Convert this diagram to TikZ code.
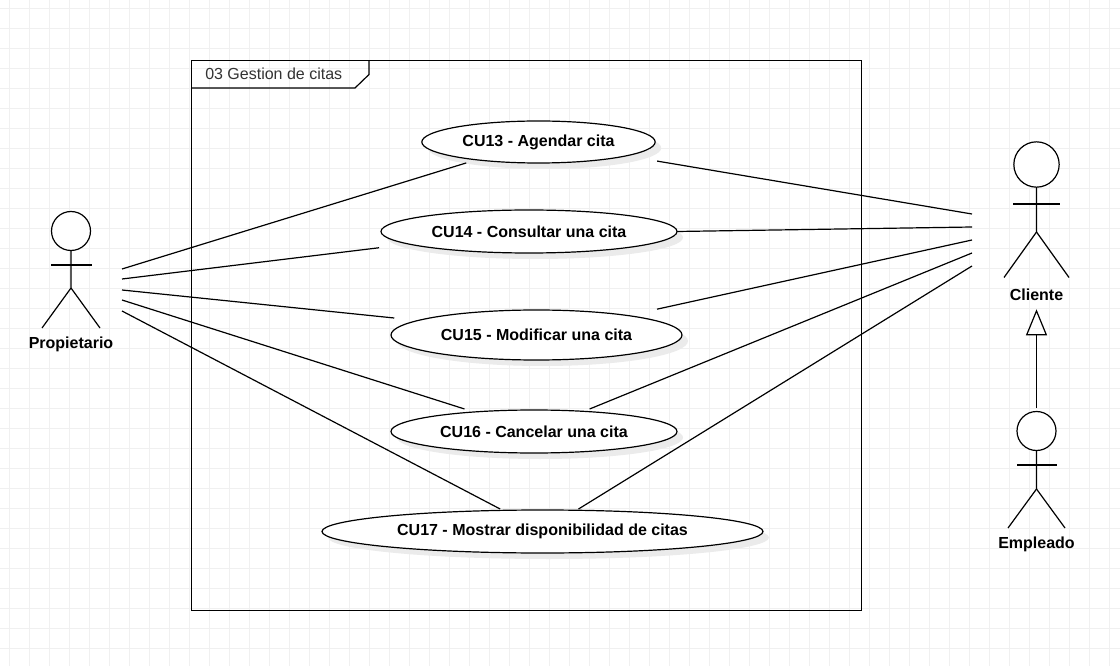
\documentclass[tikz,border=0pt]{standalone}
\usepackage{fontspec}
\setmainfont{Liberation Sans}
\usetikzlibrary{positioning, shapes, arrows.meta, shadows}
\tikzset{
	gridline/.style={draw=black!6, line width=0.75pt},
	usecase/.style={ellipse, draw=black, fill=white, line width=0.9pt, inner sep=0pt, outer sep=0pt, font=\fontsize{12}{14}\selectfont\bfseries, drop shadow={shadow xshift=4.5pt, shadow yshift=-4.5pt, fill=black!8, opacity=1}},
	actorhead/.style={circle, draw=black, fill=white, line width=0.9pt, inner sep=0pt, outer sep=0pt},
	actorname/.style={inner sep=0pt, font=\fontsize{12}{14}\selectfont\bfseries},
	assoc/.style={draw=black, line width=0.9pt},
}
\begin{document}
\begin{tikzpicture}[x=0.75pt, y=-0.75pt]
			\useasboundingbox (0,0) rectangle (1120,666);
			\fill[white] (0,0) rectangle (1120,666);
			\foreach \gx in {9.5,29.5,...,1110} {\draw[gridline] (\gx,0) -- (\gx,666);}
			\foreach \gy in {8.5,28.5,...,660} {\draw[gridline] (0,\gy) -- (1120,\gy);}

			\draw[assoc] (191.5,60.5) rectangle (861.5,610.5);
			\draw[assoc] (191.5,88) -- (355,88) -- (369,74.5) -- (369,60.5);
			\node (frametitle) [anchor=west, inner sep=0pt, text=black!80, font=\fontsize{12}{14}\selectfont] at (205,73.5) {03 Gestion de citas};

			\node (cu13) [usecase, minimum width=175pt, minimum height=31.5pt] at (538.5,142) {CU13 - Agendar cita};
			\node (cu14) [usecase, minimum width=222pt, minimum height=32.25pt] at (529,231.5) {CU14 - Consultar una cita};
			\node (cu15) [usecase, minimum width=218.25pt, minimum height=37.5pt] at (536.5,335) {CU15 - Modificar una cita};
			\node (cu16) [usecase, minimum width=214.5pt, minimum height=32.25pt] at (534,431.5) {CU16 - Cancelar una cita};
			\node (cu17) [usecase, minimum width=330.75pt, minimum height=32.25pt] at (542.5,531.5) {CU17 - Mostrar disponibilidad de citas};

			\node (propietario) [actorhead, minimum size=29.25pt] at (71,231) {};
			\draw[assoc] (propietario.south) -- (71,288) -- (42,328);
			\draw[assoc] (71,288) -- (100,328);
			\draw[assoc] (51,265) -- (92,265);
			\node (propietarioname) [actorname] at (71,344.5) {Propietario};

			\node (cliente) [actorhead, minimum size=34pt] at (1036.5,164.5) {};
			\draw[assoc] (cliente.south) -- (1036.5,232) -- (1004,277.5);
			\draw[assoc] (1036.5,232) -- (1069,277.5);
			\draw[assoc] (1013,204) -- (1060,204);
			\node (clientename) [actorname] at (1036.5,294.5) {Cliente};

			\node (empleado) [actorhead, minimum size=29.25pt] at (1036.5,431) {};
			\draw[assoc] (empleado.south) -- (1036.5,489) -- (1008,528);
			\draw[assoc] (1036.5,489) -- (1065,528);
			\draw[assoc] (1017,465) -- (1057,465);
			\node (empleadoname) [actorname] at (1036.5,544.5) {Empleado};

			\draw[assoc, -{Triangle[open, length=19.5pt, width=15.75pt]}, shorten <=2.5pt, shorten >=6.5pt] (empleado.north) -- (clientename.south);

			\coordinate (prop1) at (122,269);
			\coordinate (prop2) at (122,279);
			\coordinate (prop3) at (122,290);
			\coordinate (prop4) at (122,300);
			\coordinate (prop5) at (122,311);
			\coordinate (clie1) at (972,214);
			\coordinate (clie2) at (972,227);
			\coordinate (clie3) at (972,240);
			\coordinate (clie4) at (972,253);
			\coordinate (clie5) at (972,266);

			\draw[assoc, shorten >=8pt] (prop1) -- (cu13.196);
			\draw[assoc, shorten >=22.7pt] (prop2) -- (cu14.186.2);
			\draw[assoc, shorten >=18pt] (prop3) -- (cu15.173.8);
			\draw[assoc, shorten >=7.5pt] (prop4) -- (cu16.162.4);
			\draw[assoc, shorten >=2.2pt] (prop5) -- (cu17.152.7);
			\draw[assoc, shorten >=23.6pt] (clie1) -- (cu13.351);
			\draw[assoc] (clie2) -- (cu14.east);
			\draw[assoc, shorten >=22.3pt] (clie3) -- (cu15.12.4);
			\draw[assoc, shorten >=4.7pt] (clie4) -- (cu16.22.2);
			\draw[assoc, shorten >=1.8pt] (clie5) -- (cu17.32.4);
		\end{tikzpicture}
\end{document}
